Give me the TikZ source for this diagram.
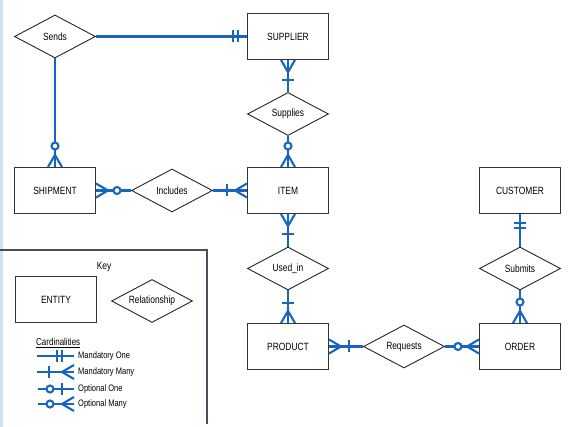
\documentclass[tikz,border=0pt]{standalone}
\usepackage{fontspec}
\setmainfont{Liberation Sans}
\newfontfamily\narrowfont{Liberation Sans}[FakeStretch=0.8]
\usetikzlibrary{shapes.geometric}
\definecolor{erblue}{RGB}{22,102,192}
\definecolor{edgeblue}{RGB}{205,228,242}
\definecolor{keygray}{RGB}{70,80,92}
\tikzset{
  conn/.style={draw=erblue,line width=2.1pt},
  entity/.style={draw=black!80,line width=1pt,rectangle,minimum width=81pt,minimum height=46pt,inner sep=0pt,font=\narrowfont\fontsize{10.5}{12}\selectfont},
  rel/.style={draw=black!85,line width=0.9pt,diamond,minimum width=81pt,minimum height=43pt,aspect=1.88,inner sep=0pt,font=\narrowfont\fontsize{10.5}{12}\selectfont},
  legtext/.style={anchor=west,inner sep=0pt,font=\narrowfont\fontsize{9.4}{11}\selectfont},
  mandmany/.pic={\draw[conn] (0,-7)--(12,0)--(0,7); \draw[conn] (20,-6)--(20,6);},
  optmany/.pic={\draw[conn] (0,-7)--(12,0)--(0,7); \draw[conn,fill=white] (21,0) circle (3.5pt);},
  mandone/.pic={\draw[conn] (9,-6)--(9,6) (14,-6)--(14,6);}
}
\begin{document}
\begin{tikzpicture}[x=1pt,y=-1pt]
\useasboundingbox (0,0) rectangle (574,427);
\fill[white] (0,0) rectangle (574,427);
\fill[edgeblue] (0,0) rectangle (3,427);
% nodes
\node[rel] (sends) at (55,36.5) {Sends};
\node[entity] (supplier) at (288,36.5) {SUPPLIER};
\node[rel] (supplies) at (288,114) {Supplies};
\node[entity] (shipment) at (55,190.5) {SHIPMENT};
\node[rel] (includes) at (172,190.5) {Includes};
\node[entity] (item) at (288,190.5) {ITEM};
\node[rel] (usedin) at (288,268.5) {Used\_in};
\node[entity] (product) at (288,346.5) {PRODUCT};
\node[rel] (requests) at (404,346.5) {Requests};
\node[entity] (order) at (520,346.5) {ORDER};
\node[rel] (submits) at (520,268.5) {Submits};
\node[entity] (customer) at (520,190.5) {CUSTOMER};
% connectors
\draw[conn] (sends.east) -- (supplier.west);
\draw[conn] (sends.south) -- (shipment.north);
\draw[conn] (supplier.south) -- (supplies.north);
\draw[conn] (supplies.south) -- (item.north);
\draw[conn] (shipment.east) -- (includes.west);
\draw[conn] (includes.east) -- (item.west);
\draw[conn] (item.south) -- (usedin.north);
\draw[conn] (usedin.south) -- (product.north);
\draw[conn] (product.east) -- (requests.west);
\draw[conn] (requests.east) -- (order.west);
\draw[conn] (customer.south) -- (submits.north);
\draw[conn] (submits.south) -- (order.north);
% cardinality symbols
\pic[rotate=180] at (supplier.west) {mandone};
\pic[rotate=-90] at (supplier.south) {mandmany};
\pic[rotate=90] at (item.north) {optmany};
\pic[rotate=90] at (shipment.north) {optmany};
\pic at (shipment.east) {optmany};
\pic[rotate=180] at (item.west) {mandmany};
\pic[rotate=-90] at (item.south) {mandmany};
\pic[rotate=90] at (product.north) {mandmany};
\pic at (product.east) {mandmany};
\pic[rotate=180] at (order.west) {optmany};
\pic[rotate=-90] at (customer.south) {mandone};
\pic[rotate=90] at (order.north) {optmany};
% key
\draw[keygray,line width=1.1pt] (0,250) -- (207,250) -- (207,424);
\node[font=\narrowfont\fontsize{10.5}{12}\selectfont] (keylabel) at (104,267) {Key};
\node[entity] (kentity) at (56,300) {ENTITY};
\node[rel] (krel) at (152,301) {Relationship};
\node[legtext,font=\narrowfont\fontsize{10}{12}\selectfont] (card) at (36,343) {\underline{Cardinalities}};
\coordinate (l1) at (74,356);
\coordinate (l2) at (74,372);
\coordinate (l3) at (74,389);
\coordinate (l4) at (74,404);
\draw[conn] (37,356) -- (l1);
\draw[conn] (57,350) -- (57,362) (62,350) -- (62,362);
\draw[conn] (37,372) -- (l2);
\draw[conn] (49,366) -- (49,378);
\draw[conn] (l2) ++(0,-7) -- (62,372) -- ++(12,7);
\draw[conn] (38,389) -- (l3);
\draw[conn] (62,383) -- (62,395);
\draw[conn,fill=white] (50,389) circle (3.5pt);
\draw[conn] (38,404) -- (l4);
\draw[conn] (l4) ++(0,-7) -- (62,404) -- ++(12,7);
\draw[conn,fill=white] (50,404) circle (3.5pt);
\node[legtext] (t1) at (78,356) {Mandatory One};
\node[legtext] (t2) at (78,372) {Mandatory Many};
\node[legtext] (t3) at (78,389) {Optional One};
\node[legtext] (t4) at (78,404) {Optional Many};
\end{tikzpicture}
\end{document}
